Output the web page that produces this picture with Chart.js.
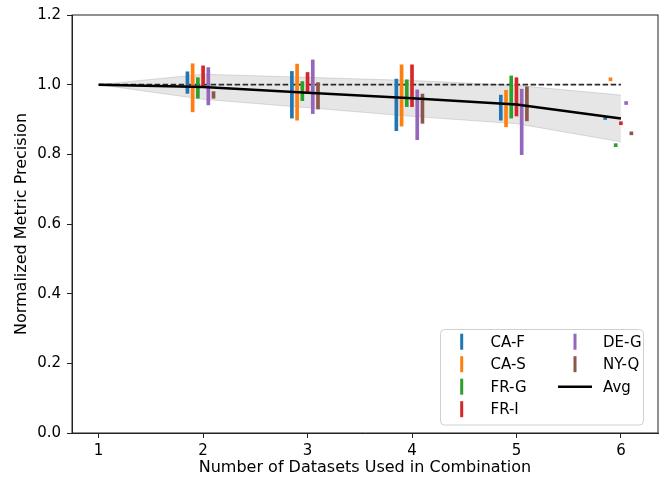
<!DOCTYPE html>
<html>
<head>
<meta charset="utf-8">
<script src="https://cdn.jsdelivr.net/npm/chart.js@4/dist/chart.umd.min.js"></script>
<style>
  body { margin: 0; background: #fff; }
  canvas { display: block; }
</style>
</head>
<body>
<canvas id="chart" width="663" height="480"></canvas>
<script>
// valores
const combos = [2, 3, 4, 5, 6];
const steps = [1, 2, 3, 4, 5, 6];

const caFLow  = [0.975, 0.904, 0.868, 0.898, 0.900];
const caFHigh = [1.037, 1.038, 1.016, 0.970, 0.900];
const caSLow  = [0.922, 0.898, 0.881, 0.879, 1.011];
const caSHigh = [1.060, 1.059, 1.057, 0.984, 1.011];
const frGLow  = [0.961, 0.954, 0.937, 0.904, 0.822];
const frGHigh = [1.020, 1.009, 1.014, 1.025, 0.822];
const frILow  = [0.997, 0.976, 0.937, 0.910, 0.885];
const frIHigh = [1.054, 1.035, 1.057, 1.020, 0.885];
const deGLow  = [0.942, 0.917, 0.842, 0.799, 0.943];
const deGHigh = [1.049, 1.071, 0.985, 0.987, 0.943];
const nyQLow  = [0.961, 0.930, 0.889, 0.896, 0.856];
const nyQHigh = [0.980, 1.006, 0.973, 0.994, 0.856];

const avg      = [1.000, 0.993, 0.977, 0.961, 0.943, 0.903];
const bandHigh = [1.000, 1.030, 1.021, 1.012, 0.998, 0.970];
const bandLow  = [1.000, 0.958, 0.934, 0.909, 0.888, 0.836];
const baseline = [1, 1, 1, 1, 1, 1];

const yTicks = [0, 0.2, 0.4, 0.6, 0.8, 1.0, 1.2];

const FONT = "'DejaVu Sans', sans-serif";

const series = [
    { label: 'CA-F', color: '#1f77b4', lo: caFLow, hi: caFHigh },
    { label: 'CA-S', color: '#ff7f0e', lo: caSLow, hi: caSHigh },
    { label: 'FR-G', color: '#2ca02c', lo: frGLow, hi: frGHigh },
    { label: 'FR-I', color: '#d62728', lo: frILow, hi: frIHigh },
    { label: 'DE-G', color: '#9467bd', lo: deGLow, hi: deGHigh },
    { label: 'NY-Q', color: '#8c564b', lo: nyQLow, hi: nyQHigh }
];

const barSets = series.map((s, i) => ({
    type: 'bar',
    label: s.label,
    data: combos.map((c, j) => ({ x: c + (i - 3) * 0.05, y: [s.lo[j], s.hi[j]] })),
    backgroundColor: s.color,
    borderWidth: 0,
    barThickness: 3,
    minBarLength: 3,
    grouped: false,
    order: 2,
    legendHandle: 'bar'
}));

const lineSets = [
    {
        type: 'line', label: 'band-high',
        data: steps.map((x, i) => ({ x, y: bandHigh[i] })),
        borderColor: 'rgba(128,128,128,0.25)', borderWidth: 1,
        pointRadius: 0, fill: false, order: 6
    },
    {
        type: 'line', label: 'band-low',
        data: steps.map((x, i) => ({ x, y: bandLow[i] })),
        borderColor: 'rgba(128,128,128,0.25)', borderWidth: 1,
        backgroundColor: 'rgba(128,128,128,0.2)',
        pointRadius: 0, fill: '-1', order: 5
    },
    {
        type: 'line', label: 'baseline',
        data: steps.map((x, i) => ({ x, y: baseline[i] })),
        borderColor: '#2a2a2a', borderWidth: 1.7, borderDash: [5.5, 2.5],
        pointRadius: 0, fill: false, order: 3
    },
    {
        type: 'line', label: 'Avg',
        data: steps.map((x, i) => ({ x, y: avg[i] })),
        borderColor: '#000', borderWidth: 2.5,
        pointRadius: 0, fill: false, order: 1,
        legendHandle: 'line'
    }
];

// marco completo estilo matplotlib
const framePlugin = {
    id: 'frame',
    afterDraw(chart) {
        const { ctx, chartArea: a } = chart;
        ctx.save();
        ctx.strokeStyle = '#222';
        ctx.lineWidth = 1;
        ctx.strokeRect(a.left, a.top, a.right - a.left, a.bottom - a.top);
        ctx.restore();
    }
};

// leyenda en dos columnas dentro del area
const legendPlugin = {
    id: 'boxLegend',
    afterDraw(chart) {
        const { ctx } = chart;
        const ds = chart.data.datasets;
        const items = [...ds.filter(d => d.legendHandle === 'bar'), ...ds.filter(d => d.legendHandle === 'line')];
        const box = { x: 440.5, y: 329.5, w: 203, h: 95.5 };
        ctx.save();
        ctx.beginPath();
        ctx.roundRect(box.x, box.y, box.w, box.h, 4);
        ctx.fillStyle = 'rgba(255,255,255,0.8)';
        ctx.fill();
        ctx.strokeStyle = '#d0d0d0';
        ctx.lineWidth = 1;
        ctx.stroke();
        ctx.font = '15px ' + FONT;
        ctx.textBaseline = 'middle';
        const cols = [{ hx: 461.7, tx: 490.5 }, { hx: 575, tx: 603 }];
        items.forEach((d, i) => {
            const col = cols[i < 4 ? 0 : 1];
            const row = i < 4 ? i : i - 4;
            const y = 341.7 + row * 22.5;
            if (d.legendHandle === 'bar') {
                ctx.fillStyle = d.backgroundColor;
                ctx.fillRect(col.hx - 1.5, y - 8, 3, 16);
            } else {
                ctx.strokeStyle = d.borderColor;
                ctx.lineWidth = 2.5;
                ctx.beginPath();
                ctx.moveTo(558, y);
                ctx.lineTo(592, y);
                ctx.stroke();
            }
            ctx.fillStyle = '#000';
            ctx.fillText(d.label, col.tx, y + 1);
        });
        ctx.restore();
    }
};

new Chart(document.getElementById('chart'), {
    type: 'line',
    data: { datasets: [...lineSets, ...barSets] },
    options: {
        responsive: false,
        animation: false,
        layout: { padding: { top: 13, right: 5, left: 12, bottom: 3 } },
        plugins: {
            legend: { display: false },
            tooltip: { enabled: false }
        },
        scales: {
            x: {
                type: 'linear',
                min: 0.745,
                max: 6.355,
                offset: false,
                afterBuildTicks: s => { s.ticks = steps.map(v => ({ value: v })); },
                afterFit: s => { s.height = 44; },
                grid: { display: true, drawOnChartArea: false, offset: false, tickLength: 5, color: '#222' },
                border: { display: true, color: '#222' },
                ticks: {
                    color: '#000', font: { family: FONT, size: 15 }, padding: 4,
                    maxRotation: 0, callback: v => String(v)
                },
                title: {
                    display: true, text: 'Number of Datasets Used in Combination',
                    color: '#000', font: { family: FONT, size: 16 }, padding: { top: 2, bottom: 0 }
                }
            },
            y: {
                min: 0,
                max: 1.2,
                afterBuildTicks: s => { s.ticks = yTicks.map(v => ({ value: v })); },
                afterFit: s => { s.width = 60; },
                grid: { display: true, drawOnChartArea: false, tickLength: 5, color: '#222' },
                border: { display: true, color: '#222' },
                ticks: {
                    color: '#000', font: { family: FONT, size: 15 }, padding: 6,
                    callback: v => v.toFixed(1)
                },
                title: {
                    display: true, text: 'Normalized Metric Precision',
                    color: '#000', font: { family: FONT, size: 16 }, padding: { top: 0, bottom: 4 }
                }
            }
        }
    },
    plugins: [framePlugin, legendPlugin]
});
</script>
</body>
</html>
